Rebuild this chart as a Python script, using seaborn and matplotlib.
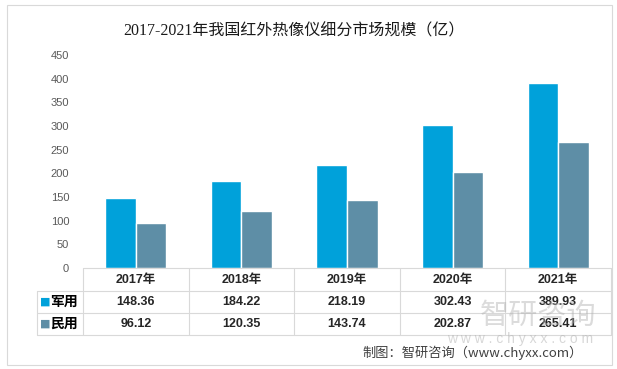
import pandas as pd
import numpy as np
import seaborn as sns
import matplotlib.pyplot as plt
from matplotlib.patches import Rectangle
from matplotlib.lines import Line2D
import matplotlib.transforms as mtransforms

# data
years = ["2017年", "2018年", "2019年", "2020年", "2021年"]
military = [148.36, 184.22, 218.19, 302.43, 389.93]
civil = [96.12, 120.35, 143.74, 202.87, 265.41]
series_names = ["军用", "民用"]
yticks = [0, 50, 100, 150, 200, 250, 300, 350, 400, 450]

colors = ["#00A1DA", "#5E8EA6"]

sns.set_theme(style="white")
plt.rcParams['font.family'] = ['Liberation Sans', 'Noto Sans CJK SC', 'DejaVu Sans']

df = pd.DataFrame({
  "year": years * 2,
  "value": military + civil,
  "type": [series_names[0]] * len(years) + [series_names[1]] * len(years),
})

fig = plt.figure(figsize=(6.17, 3.69), dpi=100)
W, H = 617, 369

# axes placed in pixel units of the reference
left, right, bottom, top = 83, 611, 268, 55
ax = fig.add_axes([left / W, 1 - bottom / H, (right - left) / W, (bottom - top) / H])

sns.barplot(data=df, x="year", y="value", hue="type", palette=colors,
            width=0.58, saturation=1, legend=False, ax=ax)

ax.set_ylim(0, 450)
ax.set_yticks(yticks)
ax.set_yticklabels([str(v) for v in yticks], color="#595959", fontsize=8)
ax.tick_params(axis="y", length=0, pad=10)
ax.set_xticks([])
ax.set_xlabel("")
ax.set_ylabel("")
ax.set_xlim(-0.5, len(years) - 0.5)
for s in ax.spines.values():
  s.set_visible(False)

# data table under the plot (x in data units, y in axes units)
ax_w = right - left
ax_h = bottom - top
trans = mtransforms.blended_transform_factory(ax.transData, ax.transAxes)
x_lab = -0.5 - (left - 37) / (ax_w / len(years))   # left edge of the label column
row_y = [0, -23 / ax_h, -45 / ax_h, -67 / ax_h]    # horizontal rule positions
grid_kw = dict(color="#D9D9D9", lw=0.8, transform=trans, clip_on=False)

ax.add_line(Line2D([-0.5, len(years) - 0.5], [row_y[0]] * 2, **grid_kw))
for y in row_y[1:]:
  ax.add_line(Line2D([x_lab, len(years) - 0.5], [y] * 2, **grid_kw))
ax.add_line(Line2D([x_lab, x_lab], [row_y[1], row_y[3]], **grid_kw))
for k in range(len(years) + 1):
  ax.add_line(Line2D([k - 0.5, k - 0.5], [row_y[0], row_y[3]], **grid_kw))

cell_kw = dict(ha="center", va="center", fontsize=9, fontweight="bold",
               color="#262626", transform=trans)
for i, yr in enumerate(years):
  ax.text(i, (row_y[0] + row_y[1]) / 2, yr, **cell_kw)
  ax.text(i, (row_y[1] + row_y[2]) / 2, "%.2f" % military[i], **cell_kw)
  ax.text(i, (row_y[2] + row_y[3]) / 2, "%.2f" % civil[i], **cell_kw)

# row labels with legend squares
for i, (name, col) in enumerate(zip(series_names, colors)):
  yc = (row_y[i + 1] + row_y[i + 2]) / 2
  ax.text(-0.5 - 5 / (ax_w / len(years)), yc, name, ha="right", va="center",
          fontsize=10, fontweight="bold", color="black", transform=trans)
  ax.text(-0.5 - 38 / (ax_w / len(years)), yc, "■", color=col, fontsize=8,
          ha="center", va="center", transform=trans, family=['DejaVu Sans'])

# title
fig.text(294 / W, 1 - 31 / H, "2017-2021年我国红外热像仪细分市场规模（亿）",
         ha="center", va="center", fontsize=11.5, color="#1a1a1a",
         family=['Liberation Serif', 'Noto Sans CJK SC'])

# watermark
fig.text(538 / W, 1 - 316 / H, "智研咨询", ha="center", va="center",
         fontsize=21, color="#B0B0B0", alpha=0.45, family=['Noto Sans CJK SC'])
fig.text(520 / W, 1 - 339 / H, "w w w . c h y x x . c o m", ha="center", va="center",
         fontsize=10, color="#B0B0B0", alpha=0.5)

# source note
fig.text(473 / W, 1 - 353 / H, "制图：智研咨询（www.chyxx.com）", ha="center", va="center",
         fontsize=9.5, color="#404040", family=['Noto Sans CJK SC', 'DejaVu Sans'])

# outer frame
fig.patches.append(Rectangle((7 / W, 1 - 365 / H), (612 - 7) / W, (365 - 5) / H,
                             transform=fig.transFigure, fill=False,
                             edgecolor="#D9D9D9", linewidth=0.8))

fig.savefig("out.png", dpi=100)
